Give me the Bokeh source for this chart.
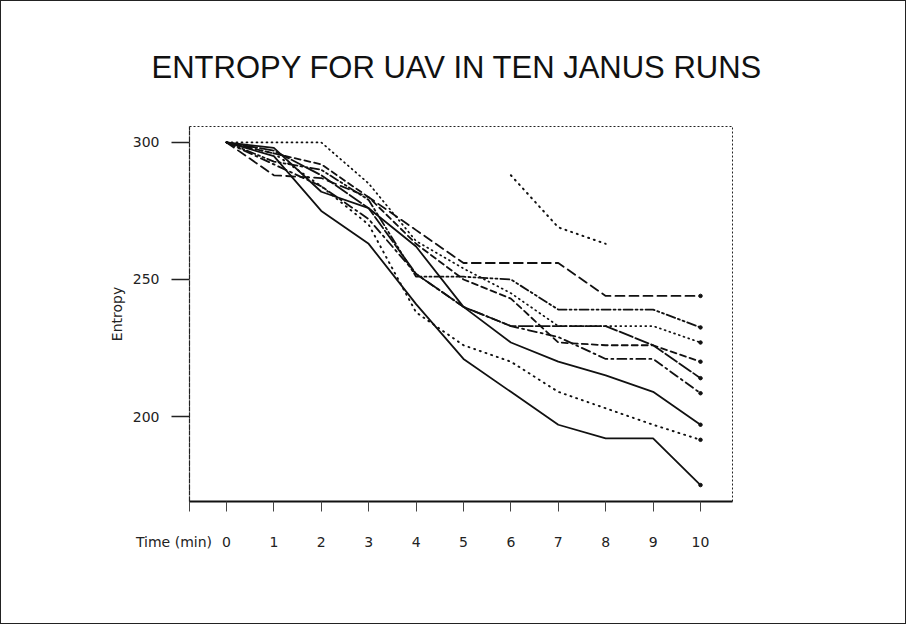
from bokeh.plotting import figure
from bokeh.models import FixedTicker, Range1d
from bokeh.embed import file_html
from bokeh.resources import INLINE
import numpy as np

# ---- data ----
time_min = [0, 1, 2, 3, 4, 5, 6, 7, 8, 9, 10]
y_ticks = [200, 250, 300]
x_title_text = "Time (min)"

run_a = [300, 288, 287, 280, 268, 256, 256, 256, 244, 244, 244]
run_b = [300, 293, 290, 279, 251, 251, 250, 239, 239, 239, 232.5]
run_c = [300, 300, 300, 285, 264, 254, 245, 233, 233, 233, 227]
run_d = [300, 296, 292, 280, 263, 250, 243, 227, 226, 226, 220]
run_e = [300, 292, 284, 272, 252, 240, 233, 229, 221, 221, 208.5]
run_f = [300, 297, 288, 276, 252, 240, 233, 233, 233, 226, 214]
run_g = [300, 298, 282, 276, 262, 240, 227, 220, 215, 209, 197]
run_h = [300, 296, 284, 270, 238, 226, 220, 209, 203, 197, 191.5]
run_i = [300, 295, 275, 263, 241, 221, 209, 197, 192, 192, 175]
run_j = [None, None, None, None, None, None, 288, 269, 263, None, None]

runs = [run_a, run_b, run_c, run_d, run_e, run_f, run_g, run_h, run_i, run_j]
dashes = ["9 5", "9 3 2 3 2 3", "1 4", "6 4", "9 4 2 4", "14 3", "solid", "1 5", "solid", "1 5"]
widths = [1.8, 1.8, 1.7, 1.8, 1.8, 1.8, 1.8, 1.9, 1.8, 2.0]

X_START, X_END = -0.78, 10.675
p = figure(width=906, height=624, output_backend="svg", toolbar_location=None,
           x_range=Range1d(X_START, X_END), y_range=Range1d(169.0, 305.8),
           min_border_left=188, min_border_right=175,
           min_border_top=125, min_border_bottom=124)
p.styles = {"border": "1px solid #222"}

p.grid.visible = False
p.background_fill_color = "white"
p.border_fill_color = "white"
p.outline_line_color = "#222"
p.outline_line_dash = "2 2"
p.outline_line_width = 1

p.title.text = "ENTROPY FOR UAV IN TEN JANUS RUNS"
p.title.align = "left"
p.title.text_font = "Liberation Sans"
p.title.text_font_size = "31px"
p.title.text_font_style = "normal"
p.title.text_color = "#111"
p.title.standoff = 83
p.title.offset = -38

for ys, dash, w in zip(runs, dashes, widths):
    yy = np.array([np.nan if v is None else v for v in ys], dtype=float)
    p.line(time_min, yy, line_color="#111", line_width=w, line_dash=dash,
           line_cap="round")

ends_x = [10] * 9
ends_y = [r[-1] for r in runs[:9]]
p.scatter(ends_x, ends_y, size=3.5, color="#111")

p.yaxis.ticker = FixedTicker(ticks=y_ticks)
p.yaxis.major_tick_out = 18
p.yaxis.major_tick_in = 0
p.yaxis.minor_tick_line_color = None
p.yaxis.major_label_standoff = 12
p.yaxis.major_label_text_font = "DejaVu Sans"
p.yaxis.major_label_text_font_size = "14px"
p.yaxis.major_label_text_color = "#222"
p.yaxis.axis_label = "Entropy"
p.yaxis.axis_label_text_font = "DejaVu Sans"
p.yaxis.axis_label_text_font_style = "normal"
p.yaxis.axis_label_text_font_size = "14px"
p.yaxis.axis_label_text_color = "#222"
p.yaxis.axis_label_standoff = 5
p.yaxis.axis_line_color = "#222"
p.yaxis.axis_line_width = 1.2
p.yaxis.axis_line_dash = "5 1"
p.yaxis.major_tick_line_color = "#222"
p.yaxis.major_tick_line_width = 1.5

# the "Time (min)" caption sits on the tick-label row, left of the frame
edge_tick = X_START + 0.001
p.xaxis.ticker = FixedTicker(ticks=[edge_tick] + time_min)
p.xaxis.major_label_overrides = {edge_tick: x_title_text + "\u00a0" * 7}
p.xaxis.major_tick_out = 10
p.xaxis.major_tick_in = 0
p.xaxis.minor_tick_line_color = None
p.xaxis.major_label_standoff = 22
p.xaxis.major_label_text_font = "DejaVu Sans"
p.xaxis.major_label_text_font_size = "14px"
p.xaxis.major_label_text_color = "#222"
p.xaxis.axis_line_color = "#111"
p.xaxis.axis_line_width = 2
p.xaxis.major_tick_line_color = "#444"
p.xaxis.major_tick_line_width = 1

open("out.html", "w").write(file_html(p, INLINE))
